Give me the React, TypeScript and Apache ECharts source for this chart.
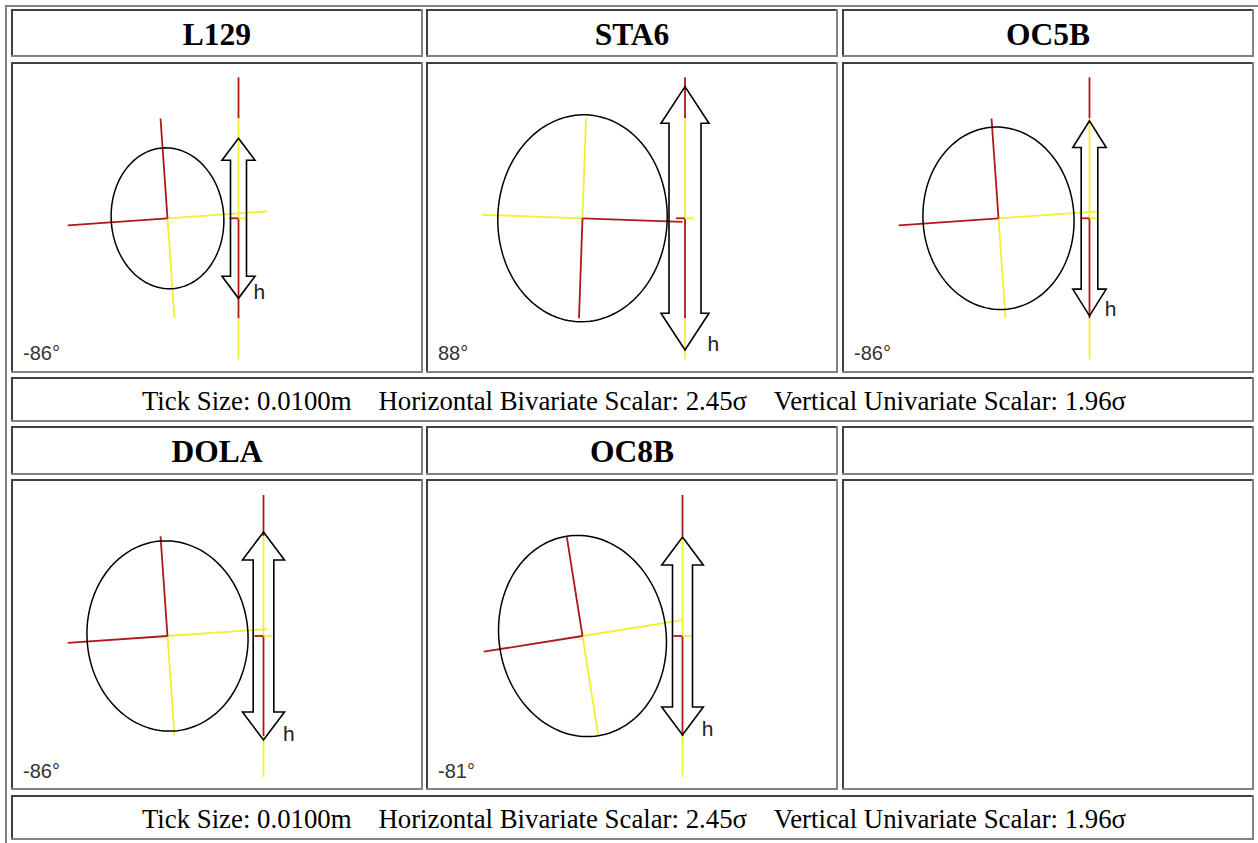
import React, { useEffect, useRef } from "react";
import * as echarts from "echarts";

// ---- data ----
const stations = ["L129", "STA6", "OC5B", "DOLA", "OC8B"];
const azimuthDeg = [-86, 88, -86, -86, -81];
const semiMajor = [70.5, 103.5, 91.3, 95.2, 101];
const semiMinor = [56.3, 84.7, 75.5, 80.5, 83.5];
const verticalHalf = [80, 131.7, 97.5, 104, 99];
const barOffset = [71, 102.5, 91, 96, 100];
const arrowHeadHalf = [16.5, 24, 16.7, 21, 20.8];
const arrowShaftHalf = [8, 16, 8.3, 10.3, 10];
const arrowHeadLen = [22, 36.7, 26.7, 28, 28];
const crossArm = 100;
const barOuter = 141;
const barTick = 9;
const footerParts = [
  "Tick Size: 0.0100m",
  "Horizontal Bivariate Scalar: 2.45σ",
  "Vertical Univariate Scalar: 1.96σ",
];

// ---- layout ----
const panelCell = [
  [0, 0],
  [0, 1],
  [0, 2],
  [1, 0],
  [1, 1],
];
const colBox = [
  [11, 423],
  [426, 838],
  [842, 1254],
];
const rowBox = [
  [9, 57],
  [62, 373],
  [377, 422],
  [426, 475],
  [479, 790],
  [795, 840],
];
const headerTextY = [34.5, 451.5];
const footerTextY = [401, 819];
const panelCenterY = [218.3, 636];
const DARK = "#404040";
const LIGHT = "#828282";
const RED = "#b01818";
const YELLOW = "#f0f030";

function cellBorders(x1: number, y1: number, x2: number, y2: number) {
  const w = x2 - x1;
  const h = y2 - y1;
  return [
    { type: "rect", shape: { x: x1, y: y1, width: w, height: 2 }, style: { fill: DARK } },
    { type: "rect", shape: { x: x1, y: y1, width: 2, height: h }, style: { fill: DARK } },
    { type: "rect", shape: { x: x1, y: y2 - 2, width: w, height: 2 }, style: { fill: LIGHT } },
    { type: "rect", shape: { x: x2 - 2, y: y1, width: 2, height: h }, style: { fill: LIGHT } },
  ];
}

function makeRender(i: number) {
  return (_params: any, api: any) => {
    const c = (x: number, y: number) => api.coord([x, y]);
    const phi = ((90 + azimuthDeg[i]) * Math.PI) / 180;
    const majorDir = phi + Math.PI / 2;
    const a = semiMajor[i];
    const b = semiMinor[i];
    const pts: number[][] = [];
    for (let k = 0; k <= 144; k++) {
      const t = (k / 144) * 2 * Math.PI;
      const u = a * Math.cos(t);
      const v = b * Math.sin(t);
      pts.push(c(u * Math.cos(majorDir) - v * Math.sin(majorDir), u * Math.sin(majorDir) + v * Math.cos(majorDir)));
    }
    const o = c(0, 0);
    const arm = (ang: number, color: string) => {
      const p = c(crossArm * Math.cos(ang), crossArm * Math.sin(ang));
      return {
        type: "line",
        shape: { x1: o[0], y1: o[1], x2: p[0], y2: p[1] },
        style: { stroke: color, lineWidth: 1.8 },
      };
    };
    const bx = barOffset[i];
    const seg = (x1: number, y1: number, x2: number, y2: number, color: string) => {
      const p1 = c(x1, y1);
      const p2 = c(x2, y2);
      return {
        type: "line",
        shape: { x1: p1[0], y1: p1[1], x2: p2[0], y2: p2[1] },
        style: { stroke: color, lineWidth: 1.8 },
      };
    };
    const L = verticalHalf[i];
    const W = arrowHeadHalf[i];
    const S = arrowShaftHalf[i];
    const H = arrowHeadLen[i];
    const arrowPts = [
      [bx, L],
      [bx + W, L - H],
      [bx + S, L - H],
      [bx + S, -L + H],
      [bx + W, -L + H],
      [bx, -L],
      [bx - W, -L + H],
      [bx - S, -L + H],
      [bx - S, L - H],
      [bx - W, L - H],
    ].map((p) => c(p[0], p[1]));
    const lbl = c(-144.5, -135);
    const hp = c(bx + W - 1.5, -L + 7);
    return {
      type: "group",
      children: [
        arm(phi, YELLOW),
        arm(phi - Math.PI / 2, YELLOW),
        arm(phi + Math.PI / 2, RED),
        arm(phi + Math.PI, RED),
        {
          type: "polyline",
          shape: { points: pts },
          style: { stroke: "#000", lineWidth: 1.5, fill: "none" },
        },
        seg(bx, crossArm, bx, barOuter, RED),
        seg(bx, 0, bx, crossArm, YELLOW),
        seg(bx, 0, bx, -crossArm, RED),
        seg(bx, -crossArm, bx, -barOuter, YELLOW),
        seg(bx - barTick, 0, bx, 0, RED),
        seg(bx, 0, bx + barTick, 0, YELLOW),
        {
          type: "polygon",
          shape: { points: arrowPts },
          style: { stroke: "#000", lineWidth: 1.6, fill: "none" },
        },
        {
          type: "text",
          style: {
            text: azimuthDeg[i] + "°",
            x: lbl[0],
            y: lbl[1],
            fill: "#333",
            font: "20px 'Liberation Sans', Arial, sans-serif",
            align: "left",
            verticalAlign: "middle",
          },
        },
        {
          type: "text",
          style: {
            text: "h",
            x: hp[0],
            y: hp[1],
            fill: "#222",
            font: "21px 'Liberation Sans', Arial, sans-serif",
            align: "left",
            verticalAlign: "middle",
          },
        },
      ],
    };
  };
}

export default function App() {
  const ref = useRef<HTMLDivElement>(null);
  useEffect(() => {
    if (!ref.current) return;
    const chart = echarts.init(ref.current, undefined, { renderer: "svg" });

    const graphics: any[] = [];
    // outer table border (top/left visible)
    graphics.push({ type: "rect", shape: { x: 5, y: 5, width: 1253, height: 2 }, style: { fill: LIGHT } });
    graphics.push({ type: "rect", shape: { x: 5, y: 5, width: 2, height: 838 }, style: { fill: LIGHT } });
    // header / image cells
    [0, 1, 3, 4].forEach((r) => {
      colBox.forEach((cb) => {
        graphics.push(...cellBorders(cb[0], rowBox[r][0], cb[1], rowBox[r][1]));
      });
    });
    // footer cells
    [2, 5].forEach((r) => {
      graphics.push(...cellBorders(colBox[0][0], rowBox[r][0], colBox[2][1], rowBox[r][1]));
    });
    // headers
    stations.forEach((s, i) => {
      const [r, col] = panelCell[i];
      graphics.push({
        type: "text",
        style: {
          text: s,
          x: (colBox[col][0] + colBox[col][1]) / 2,
          y: headerTextY[r],
          font: "bold 31.5px 'Liberation Serif', 'Times New Roman', serif",
          fill: "#000",
          align: "center",
          verticalAlign: "middle",
        },
      });
    });
    const footerText = footerParts.join("\u00a0\u00a0\u00a0\u00a0");
    footerTextY.forEach((y) => {
      graphics.push({
        type: "text",
        style: {
          text: footerText,
          x: 634,
          y,
          font: "26.8px 'Liberation Serif', 'Times New Roman', serif",
          fill: "#000",
          align: "center",
          verticalAlign: "middle",
        },
      });
    });

    const grids: any[] = [];
    const xAxes: any[] = [];
    const yAxes: any[] = [];
    const series: any[] = [];
    stations.forEach((_s, i) => {
      const [r, col] = panelCell[i];
      const cx = (colBox[col][0] + colBox[col][1]) / 2 - 49.5;
      grids.push({ left: cx - 150, top: panelCenterY[r] - 150, width: 400, height: 300 });
      xAxes.push({ type: "value", gridIndex: i, min: -150, max: 250, show: false });
      yAxes.push({ type: "value", gridIndex: i, min: -150, max: 150, show: false });
      series.push({
        type: "custom",
        xAxisIndex: i,
        yAxisIndex: i,
        silent: true,
        data: [[0, 0]],
        renderItem: makeRender(i),
      });
    });

    chart.setOption({
      animation: false,
      backgroundColor: "#fff",
      grid: grids,
      xAxis: xAxes,
      yAxis: yAxes,
      series,
      graphic: graphics,
    });
    return () => chart.dispose();
  }, []);
  return (
    <div
      ref={ref}
      style={{ position: "absolute", left: 0, top: 0, width: 1258, height: 843 }}
    />
  );
}
